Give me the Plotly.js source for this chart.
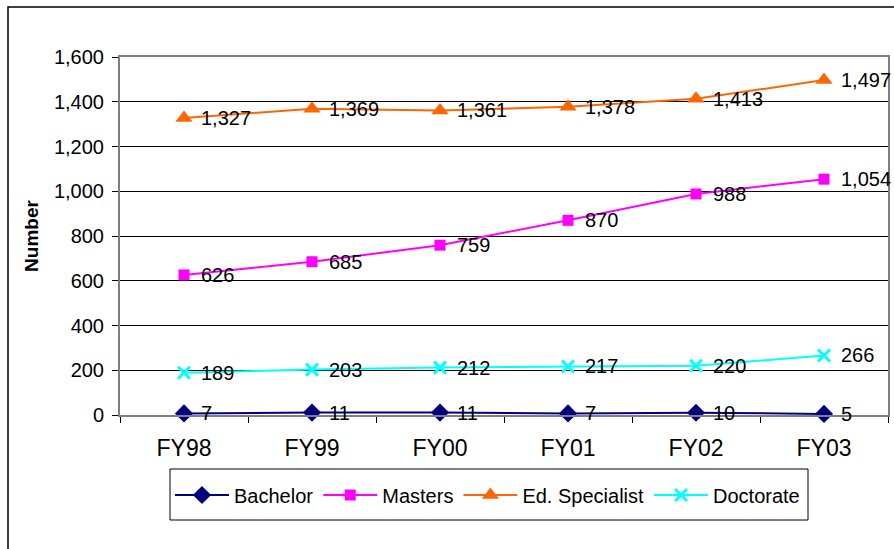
<!DOCTYPE html>
<html>
<head>
<meta charset="utf-8">
<script src="https://cdn.plot.ly/plotly-3.0.1.min.js"></script>
<style>html,body{margin:0;padding:0;background:#fff;overflow:hidden}#chart{width:894px;height:549px}</style>
</head>
<body>
<div id="chart"></div>
<script>
const categories = ["FY98", "FY99", "FY00", "FY01", "FY02", "FY03"];
const bachelor = [7, 11, 11, 7, 10, 5];
const masters = [626, 685, 759, 870, 988, 1054];
const edSpecialist = [1327, 1369, 1361, 1378, 1413, 1497];
const doctorate = [189, 203, 212, 217, 220, 266];
const seriesNames = ["Bachelor", "Masters", "Ed. Specialist", "Doctorate"];

const FONT = "Liberation Sans, Arial, sans-serif";
const fmt = v => v.toLocaleString("en-US");
function mk(name, vals, color, symbol, size) {
  return {
    type: "scatter", mode: "lines+markers", name: name,
    x: categories, y: vals,
    line: {color: color, width: 2},
    marker: {color: color, symbol: symbol, size: size, line: {color: color, width: symbol === "x-thin" ? 3 : 0}},
    cliponaxis: false
  };
}
const seriesVals = [bachelor, masters, edSpecialist, doctorate];
const data = [
  mk(seriesNames[0], bachelor, "#000080", "diamond", 14),
  mk(seriesNames[1], masters, "#FF00FF", "square", 11),
  mk(seriesNames[2], edSpecialist, "#FF6600", "triangle-up", 15),
  mk(seriesNames[3], doctorate, "#00FFFF", "x-thin", 12)
];
const annotations = [];
seriesVals.forEach(vals => vals.forEach((v, i) => annotations.push({
  x: categories[i], y: v, xref: "x", yref: "y", text: fmt(v),
  showarrow: false, xanchor: "left", yanchor: "middle", xshift: 15,
  font: {family: FONT, size: 20, color: "#000"}
})));
const L = 120, T = 57, W = 768, H = 358;
const px = X => (X - L) / W, py = Y => 1 - (Y - T) / H;
const layout = {
  width: 894, height: 549,
  margin: {l: L, r: 894 - L - W, t: T, b: 549 - T - H},
  paper_bgcolor: "#fff", plot_bgcolor: "#fff",
  font: {family: FONT, size: 20, color: "#000"},
  showlegend: true,
  legend: {
    orientation: "h", x: px(170), y: py(495), xanchor: "left", yanchor: "middle",
    borderwidth: 0, bgcolor: "rgba(0,0,0,0)",
    font: {size: 20, color: "#000"}, traceorder: "normal", itemwidth: 54
  },
  annotations: annotations,
  xaxis: {
    type: "category", range: [-0.5, 5.5], tickson: "boundaries",
    ticks: "outside", ticklen: 6, tickcolor: "#000", tickwidth: 1,
    ticklabelstandoff: 11,
    showline: true, linecolor: "#808080", linewidth: 2, mirror: true,
    showgrid: false, tickfont: {size: 23}, fixedrange: true
  },
  yaxis: {
    range: [0, 1600], dtick: 200, tickformat: ",d",
    ticks: "outside", ticklen: 6, tickcolor: "#000",
    ticklabelstandoff: 4,
    showline: true, linecolor: "#808080", linewidth: 2, mirror: true,
    showgrid: true, gridcolor: "#000", gridwidth: 1, zeroline: false,
    tickfont: {size: 20},
    title: {text: "<b>Number</b>", font: {size: 19}, standoff: 10}, fixedrange: true
  },
  shapes: [{
    type: "rect", xref: "paper", yref: "paper",
    x0: px(8), x1: 1.2, y0: -0.6, y1: py(7),
    line: {color: "#000", width: 1.5}, fillcolor: "rgba(0,0,0,0)", layer: "below"
  }, {
    type: "rect", xref: "paper", yref: "paper",
    x0: px(170), x1: px(808), y0: py(520), y1: py(469),
    line: {color: "#000", width: 1}, fillcolor: "rgba(0,0,0,0)", layer: "below"
  }]
};
Plotly.newPlot("chart", data, layout, {displayModeBar: false, staticPlot: true});
</script>
</body>
</html>
